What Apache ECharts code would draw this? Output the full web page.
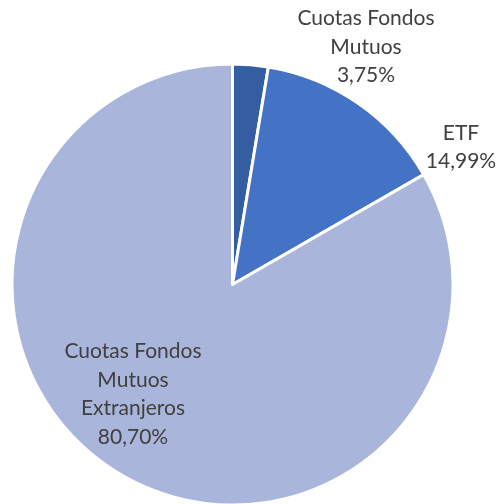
<!DOCTYPE html>
<html>
<head>
<meta charset="utf-8">
<script src="https://cdn.jsdelivr.net/npm/echarts@6/dist/echarts.min.js"></script>
<style>
  html, body { margin: 0; padding: 0; background: #ffffff; }
  #chart { width: 497px; height: 504px; }
</style>
</head>
<body>
<div id="chart"></div>
<script>
// categorías y valores (proporciones)
const categories = ['Cuotas Fondos\nMutuos', 'ETF', 'Cuotas Fondos\nMutuos\nExtranjeros'];
const values = [2.6, 14.1, 83.3];
// textos de porcentaje tal como aparecen en las etiquetas
const percentLabels = ['3,75%', '14,99%', '80,70%'];

const colors = ['#355da1', '#4472c4', '#a9b5da'];
// posición (centro de la etiqueta) para cada sector
const labelPos = [[366, 47], [461, 147], [133, 394]];

const myChart = echarts.init(document.getElementById('chart'));

const option = {
  backgroundColor: '#ffffff',
  animation: false,
  series: [
    {
      type: 'pie',
      center: [232.5, 284.5],
      radius: [0, 220.5],
      startAngle: 90,
      clockwise: true,
      data: categories.map((name, i) => ({
        name: name,
        value: values[i],
        itemStyle: { color: colors[i] }
      })),
      itemStyle: { borderColor: '#ffffff', borderWidth: 3 },
      label: {
        show: true,
        position: 'outside',
        formatter: (p) => p.name + '\n' + percentLabels[p.dataIndex],
        color: '#404040',
        fontFamily: 'Lato',
        fontSize: 21,
        lineHeight: 28.5,
        align: 'center',
        overflow: 'none'
      },
      labelLine: { show: false },
      labelLayout: (params) => ({
        x: labelPos[params.dataIndex][0],
        y: labelPos[params.dataIndex][1],
        align: 'center',
        verticalAlign: 'middle',
        hideOverlap: false
      }),
      emphasis: { disabled: true }
    }
  ]
};

myChart.setOption(option);
</script>
</body>
</html>
